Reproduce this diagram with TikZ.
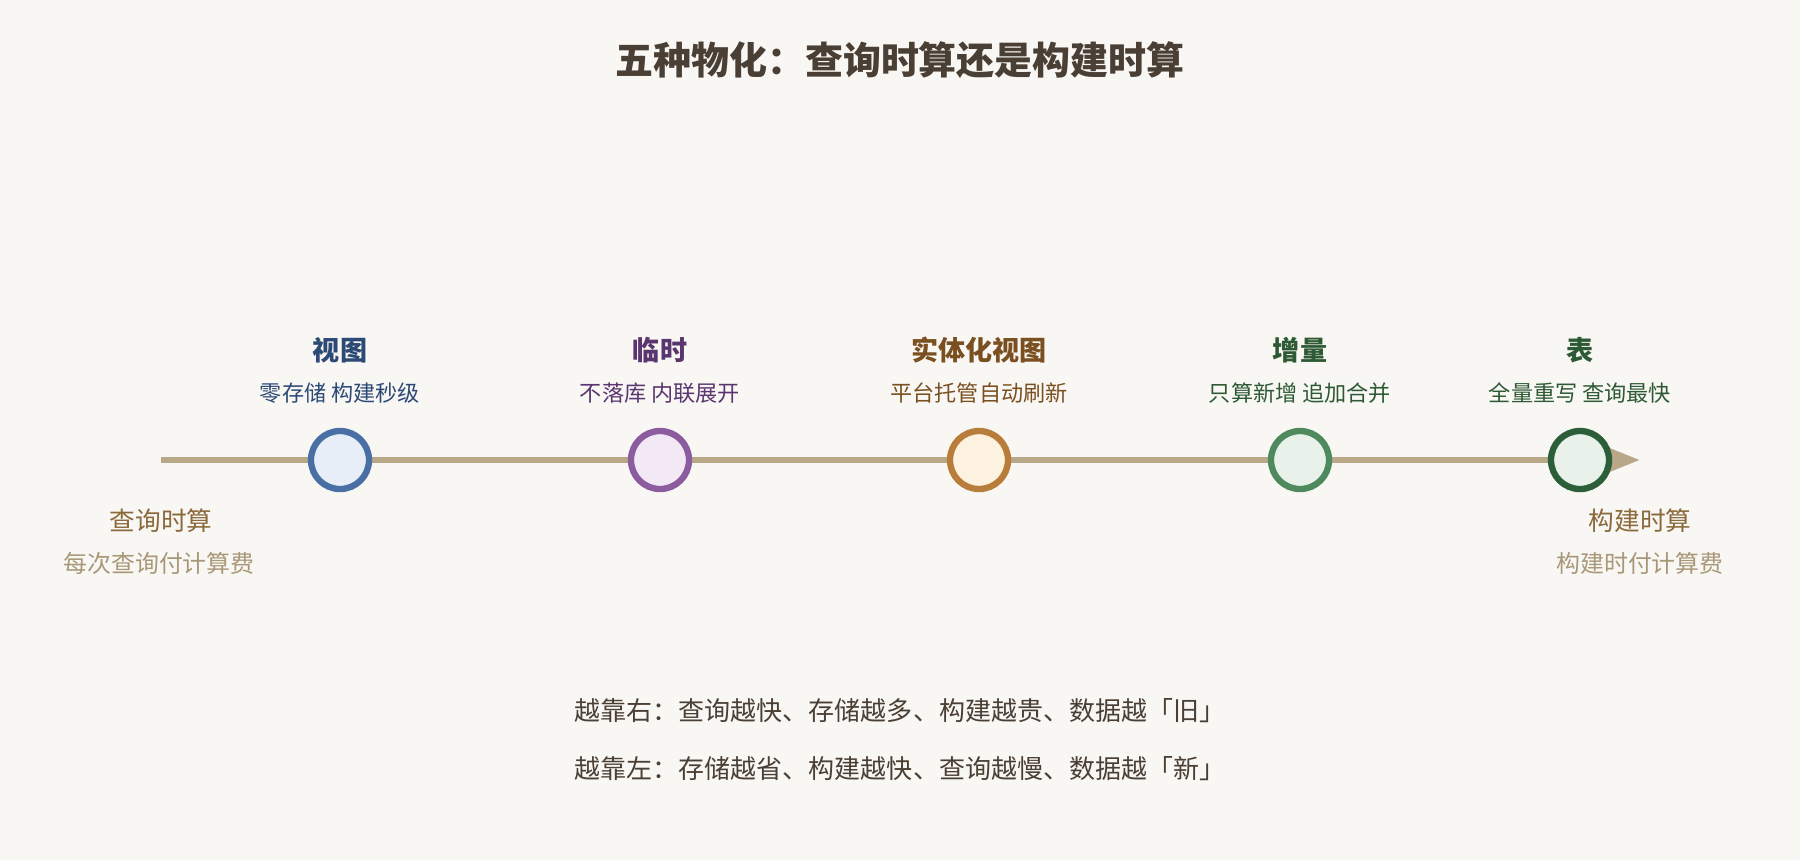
\documentclass[tikz,border=0pt]{standalone}
\usepackage{fontspec}
\setmainfont{Noto Sans CJK SC}
\usetikzlibrary{positioning,arrows.meta}
\definecolor{bg}{HTML}{F9F7F4}
\definecolor{axis}{HTML}{B8A888}
\definecolor{ink}{HTML}{4A3F35}
\definecolor{endA}{HTML}{8A6A3A}
\definecolor{endB}{HTML}{A89878}
\definecolor{sA}{HTML}{4A6FA5}\definecolor{fA}{HTML}{E8EEF8}\definecolor{tA}{HTML}{2C4A75}
\definecolor{sB}{HTML}{8B5C9E}\definecolor{fB}{HTML}{F3E8F5}\definecolor{tB}{HTML}{5A3570}
\definecolor{sC}{HTML}{B87D3A}\definecolor{fC}{HTML}{FDF1E0}\definecolor{tC}{HTML}{7A5020}
\definecolor{sD}{HTML}{4E8A5E}\definecolor{fD}{HTML}{E8F2EA}\definecolor{tD}{HTML}{2D5A35}
\definecolor{sE}{HTML}{2D5E3A}\definecolor{fE}{HTML}{E8F2EA}\definecolor{tE}{HTML}{2D5A35}
\tikzstyle{stage}=[circle,line width=1.8pt,minimum size=0.58cm,inner sep=0pt]
\tikzstyle{stage title}=[font=\fontsize{7.7}{9}\selectfont\bfseries]
\tikzstyle{stage note}=[font=\fontsize{6.3}{8}\selectfont]
\tikzstyle{end title}=[font=\fontsize{7.3}{9}\selectfont,text=endA]
\tikzstyle{end note}=[font=\fontsize{6.8}{8}\selectfont,text=endB]
\tikzstyle{summary}=[font=\fontsize{7.4}{9}\selectfont,text=ink]

\begin{document}
\begin{tikzpicture}[x=0.01cm,y=-0.01cm]
    \fill[bg] (0,0) rectangle (1800,860);
    \useasboundingbox (0,0) rectangle (1800,860);

    \node[font=\fontsize{10.8}{12}\selectfont\bfseries,text=ink] (title) at (900,60) {五种物化：查询时算还是构建时算};

    % axis
    \coordinate (axis-start) at (161,460);
    \coordinate (axis-end) at (1640,460);
    \draw[axis,line width=1.6pt,-{Triangle[length=0.3cm,width=0.22cm]}] (axis-start) -- (axis-end);

    % stages
    \foreach \name / \x / \t / \n in {A/340/视图/零存储 构建秒级, B/660/临时/不落库 内联展开,
        C/979/实体化视图/平台托管自动刷新, D/1300/增量/只算新增 追加合并, E/1580/表/全量重写 查询最快}
    {
        \node[stage,draw=s\name,fill=f\name] (S-\name) at (\x,460) {};
        \node[stage note,text=t\name] (N-\name) at (\x,393) {\n};
        \node[stage title,text=t\name] (T-\name) at (\x,350) {\t};
    }

    % ends
    \node[end title] (L-1) at (161,521) {查询时算};
    \node[end note] (L-2) at (159,563) {每次查询付计算费};
    \node[end title] (R-1) at (1640,521) {构建时算};
    \node[end note] (R-2) at (1640,563) {构建时付计算费};

    % summary
    \node[summary] (sum-1) at (900,711) {越靠右：查询越快、存储越多、构建越贵、数据越「旧」};
    \node[summary] (sum-2) at (900,769) {越靠左：存储越省、构建越快、查询越慢、数据越「新」};
\end{tikzpicture}
\end{document}
